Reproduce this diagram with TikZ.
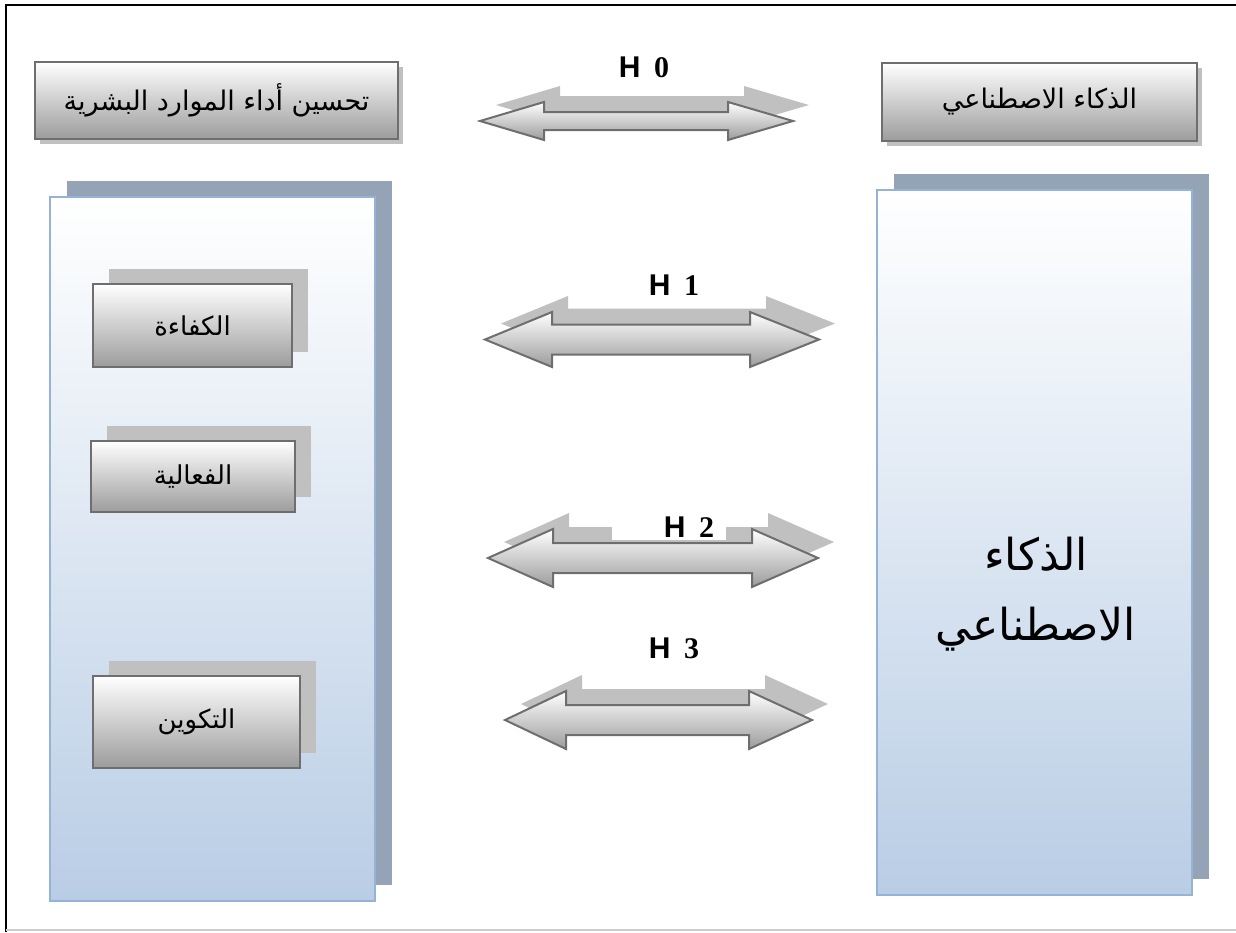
\documentclass[tikz,border=0pt]{standalone}
\usepackage{fontspec}
\usetikzlibrary{shadows}
\TeXXeTstate=1
\newfontfamily\arabicfont[Script=Arabic]{DejaVu Sans}
\newfontfamily\hfont{Liberation Serif}
\newfontfamily\hsans{Liberation Sans}
\definecolor{boxborder}{HTML}{6E6E6E}
\definecolor{boxbottom}{HTML}{9C9C9C}
\definecolor{panelborder}{HTML}{95B3D7}
\definecolor{panelbottom}{HTML}{B9CDE5}
\definecolor{panelshadow}{HTML}{94A3B5}
\definecolor{lightshadow}{HTML}{C0C0C0}
\tikzset{
  titlebox/.style={draw=boxborder, line width=1pt, top color=white, bottom color=boxbottom,
    general shadow={fill=lightshadow, shadow xshift=2.5pt, shadow yshift=-2.5pt},
    font=\arabicfont\fontsize{13.5}{16}\selectfont},
  itembox/.style={draw=boxborder, line width=1pt, top color=white, bottom color=boxbottom,
    general shadow={fill=lightshadow, shadow xshift=8pt, shadow yshift=7.5pt},
    font=\arabicfont\fontsize{13}{15}\selectfont},
  panel/.style={draw=panelborder, line width=1.2pt, top color=white, bottom color=panelbottom,
    general shadow={fill=panelshadow, shadow xshift=8.5pt, shadow yshift=8pt}},
  hlabel/.style={font=\hfont\bfseries\fontsize{15}{18}\selectfont, inner ysep=1pt},
  arrowshadow/.style={fill=lightshadow},
  arrowbody/.style={draw=boxborder, line width=1pt, top color=white, bottom color=boxbottom}
}
\newcommand{\hname}[1]{{\hsans H}\hspace{0.45em}#1}
% double arrow: left tip, left base, right base, right tip, centre, shaft half, head half
\newcommand{\hyparrow}[7]{%
  \path[arrowshadow, shift={(16,-16)}] (#1,#5) -- (#2,#5-#7) -- (#2,#5-#6) -- (#3,#5-#6) -- (#3,#5-#7)
    -- (#4,#5) -- (#3,#5+#7) -- (#3,#5+#6) -- (#2,#5+#6) -- (#2,#5+#7) -- cycle;
  \path[arrowbody] (#1,#5) -- (#2,#5-#7) -- (#2,#5-#6) -- (#3,#5-#6) -- (#3,#5-#7)
    -- (#4,#5) -- (#3,#5+#7) -- (#3,#5+#6) -- (#2,#5+#6) -- (#2,#5+#7) -- cycle;
}
\begin{document}
\begin{tikzpicture}[x=0.5pt, y=-0.5pt]
  \useasboundingbox (0,0) rectangle (1236,932);
  \draw[line width=1pt] (6,932) -- (6,5) -- (1236,5);
  \draw[gray!40, line width=1pt] (6,930) -- (1236,930);

  % headings
  \node[titlebox, minimum width=181.5pt, minimum height=38.5pt] (perf) at (216.5,100.5) {\beginR تحسين أداء الموارد البشرية\endR};
  \node[titlebox, minimum width=157.5pt, minimum height=39pt] (ai) at (1039.5,102) {\beginR الذكاء الاصطناعي\endR};

  % panels
  \node[panel, minimum width=162.5pt, minimum height=352pt] (perfpanel) at (212.5,549) {};
  \node[panel, minimum width=157.5pt, minimum height=352.5pt] (aipanel) at (1034.5,542.5) {};
  \node[font=\arabicfont\fontsize{22}{35}\selectfont, align=center] (aitext) at (1036,594) {\beginR الذكاء\endR\\\beginR الاصطناعي\endR};

  % dimensions
  \node[itembox, minimum width=99.5pt, minimum height=41.5pt] (competence) at (192.5,325.5) {\beginR الكفاءة\endR};
  \node[itembox, minimum width=102pt, minimum height=35.5pt] (efficacy) at (193,476.5) {\beginR الفعالية\endR};
  \node[itembox, minimum width=103.5pt, minimum height=46pt] (training) at (196.5,722) {\beginR التكوين\endR};

  % hypotheses
  \hyparrow{480}{544}{728}{793}{121}{9}{19}
  \hyparrow{485}{552}{750}{819}{339.5}{15}{27.5}
  \hyparrow{488}{553}{752}{818}{558}{15}{29}
  \hyparrow{505}{566}{749}{812}{720}{15}{29}
  \node[hlabel] (h0) at (644,67) {\hname{0}};
  \node[hlabel] (h1) at (674,285) {\hname{1}};
  \node[hlabel, fill=white, text width=45pt, align=right, inner xsep=6pt, minimum height=13pt] (h2) at (669,527) {\hname{2}};
  \node[hlabel] (h3) at (674,648) {\hname{3}};
\end{tikzpicture}
\end{document}
